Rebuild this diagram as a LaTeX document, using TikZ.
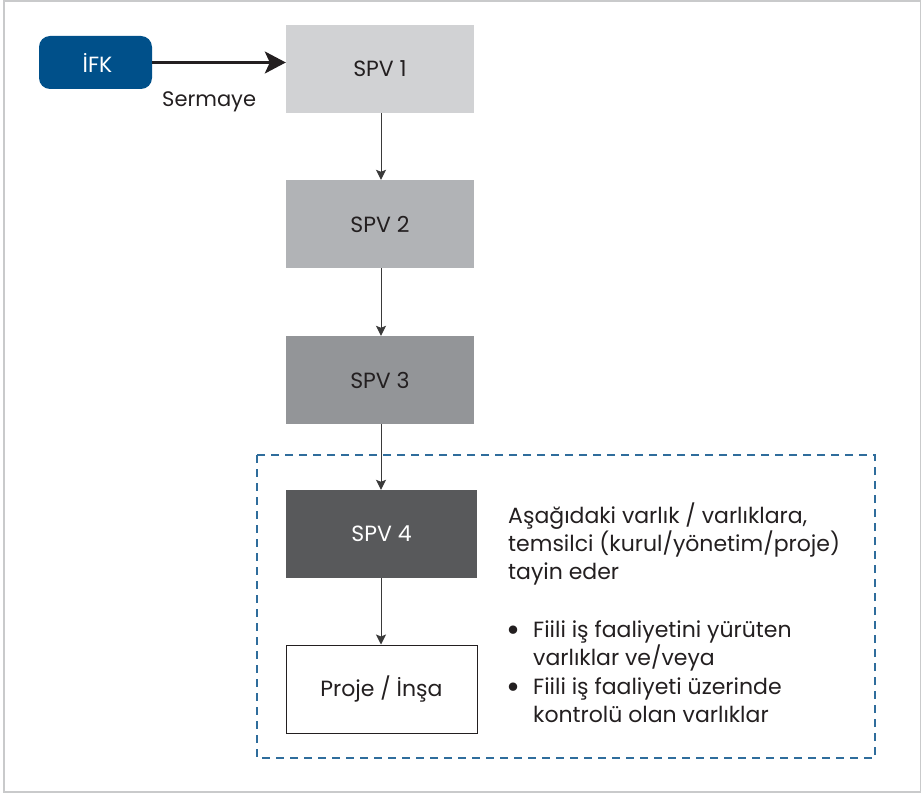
\documentclass[tikz,border=0pt]{standalone}
\usepackage{fontspec}
\setmainfont{Poppins}
\usetikzlibrary{arrows.meta}
\definecolor{frameg}{HTML}{C9CACB}
\definecolor{ifkblue}{HTML}{00508A}
\definecolor{dashblue}{HTML}{2F6D9C}
\definecolor{txtc}{HTML}{231F20}
\definecolor{spvA}{HTML}{D1D2D4}
\definecolor{spvB}{HTML}{B1B3B6}
\definecolor{spvC}{HTML}{939598}
\definecolor{spvD}{HTML}{58595B}
\definecolor{arrc}{HTML}{3A3A3A}
\tikzset{
  spvbox/.style={rectangle, draw=none, minimum width=188pt, minimum height=88pt, inner sep=0pt, text=txtc, font=\fontsize{22}{26}\selectfont},
  ifkbox/.style={rectangle, rounded corners=11pt, fill=ifkblue, draw=none, minimum width=113pt, minimum height=53pt, inner sep=0pt, text=white, font=\fontsize{22}{26}\selectfont},
  smallarrow/.style={draw=arrc, line width=1pt, -{Stealth[length=10pt,width=10pt,inset=2pt]}},
  bigarrow/.style={draw=txtc, line width=2.6pt, -{Stealth[length=21pt,width=22pt,inset=5pt]}},
  txtline/.style={anchor=base west, inner sep=0pt, text=txtc, font=\fontsize{22}{26}\selectfont},
  bulletmark/.style={anchor=base west, inner sep=0pt, text=txtc, font=\fontsize{34}{34}\selectfont},
  dashframe/.style={draw=dashblue, line width=1.2pt, dash pattern=on 8pt off 6pt},
}
\begin{document}
\begin{tikzpicture}[x=1pt,y=-1pt]
\useasboundingbox (0,0) rectangle (924,794);
\draw[frameg, line width=1.5pt] (4,1) rectangle (920.5,792);
\draw[dashframe] (257,455) rectangle (875,758);

\node[ifkbox] (ifk) at (95.5,62.5) {\hspace{4pt}İFK};
\node[spvbox, fill=spvA] (s1) at (380,69) {SPV 1};
\node[spvbox, fill=spvB] (s2) at (380,224) {SPV 2};
\node[spvbox, fill=spvC] (s3) at (380,380) {SPV 3};
\node[spvbox, fill=spvD, text=white, minimum width=191pt] (s4) at (381.5,534) {SPV 4};
\node[spvbox, fill=white, draw=txtc, line width=1pt, minimum width=191pt] (pr) at (381.5,689) {Proje / İnşa};

\draw[bigarrow] (ifk.east) -- (ifk.east -| s1.west);
\node[txtline, font=\fontsize{21}{24}\selectfont] (serm) at (162,107) {Sermaye};

\draw[smallarrow] (s1.south -| 381,0) -- (s2.north -| 381,0);
\draw[smallarrow] (s2.south -| 381,0) -- (s3.north -| 381,0);
\draw[smallarrow] (s3.south -| 381,0) -- (s4.north -| 381,0);
\draw[smallarrow] (s4.south -| 381,0) -- (pr.north -| 381,0);

\node[txtline] (l1) at (508,523) {Aşağıdaki varlık / varlıklara,};
\node[txtline] (l2) at (508,551) {temsilci (kurul/yönetim/proje)};
\node[txtline] (l3) at (508,579) {tayin eder};
\node[bulletmark] (b1) at (506,641) {•};
\node[txtline] (l4) at (533,637) {Fiili iş faaliyetini yürüten};
\node[txtline] (l5) at (533,665) {varlıklar ve/veya};
\node[bulletmark] (b2) at (506,698) {•};
\node[txtline] (l6) at (533,694) {Fiili iş faaliyeti üzerinde};
\node[txtline] (l7) at (533,722) {kontrolü olan varlıklar};
\end{tikzpicture}
\end{document}
